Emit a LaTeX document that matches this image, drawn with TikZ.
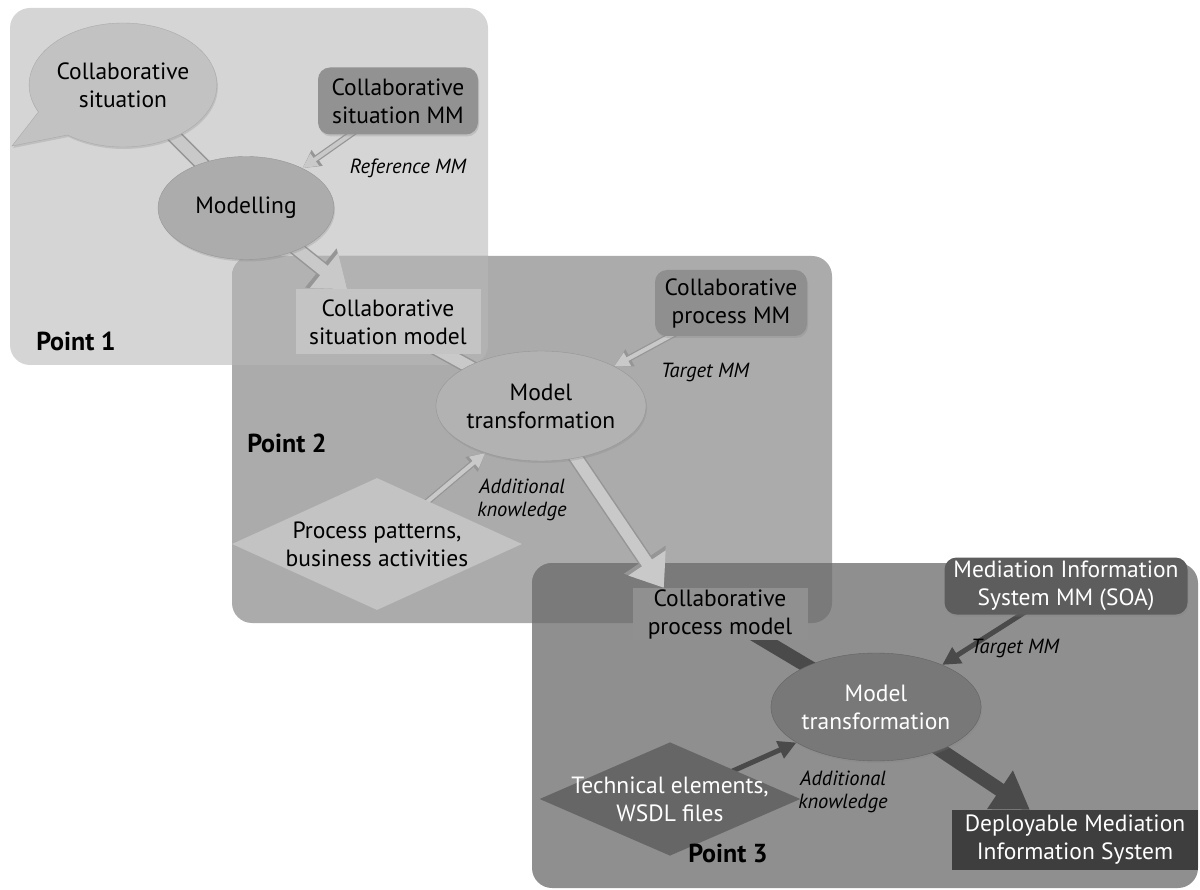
\documentclass[tikz,border=0pt]{standalone}
\usepackage{fontspec}
\setmainfont{PT Sans}
\usepackage{tikz}
\usetikzlibrary{shapes.geometric,shapes.callouts,shadows,arrows.meta}
\pgfdeclarelayer{panels}
\pgfdeclarelayer{links}
\pgfsetlayers{panels,links,main}

\begin{document}
\begin{tikzpicture}[x=1pt,y=-1pt,
  every node/.style={font=\fontsize{23.5}{28}\selectfont, align=center, inner sep=0pt},
  soft/.style={drop shadow={shadow xshift=1pt,shadow yshift=-2pt,opacity=0.25}},
  blob/.style={ellipse, soft},
  mbox/.style={rectangle, rounded corners=12pt, soft},
  flatbox/.style={rectangle},
  kite/.style={diamond},
  tag/.style={font=\fontsize{20.5}{23}\selectfont\itshape},
  pointlabel/.style={font=\fontsize{26}{30}\selectfont\bfseries},
  fatrim/.style={line width=15pt, draw=rimColor},
  fatcore/.style={line width=12pt, draw=paleColor},
  thinrim/.style={line width=6.5pt, draw=rimColor},
  thincore/.style={line width=4pt, draw=paleColor},
  darkfat/.style={line width=14pt, draw=darkColor},
  darkthin/.style={line width=5pt, draw=darkColor}]
\useasboundingbox (0,0) rectangle (1200,890);
\definecolor{panelOneColor}{RGB}{213,213,213}
\definecolor{panelTwoColor}{RGB}{171,171,171}
\definecolor{panelOneTwoColor}{RGB}{178,178,178}
\definecolor{panelThreeColor}{RGB}{143,143,143}
\definecolor{panelTwoThreeColor}{RGB}{122,122,122}
\definecolor{rimColor}{RGB}{150,150,150}
\definecolor{paleColor}{RGB}{201,201,201}
\definecolor{darkColor}{RGB}{74,74,74}

% panels
\begin{pgfonlayer}{panels}
  \fill[panelOneColor,rounded corners=20pt] (10,8) rectangle (488,365);
  \fill[panelTwoColor,rounded corners=20pt] (232,256) rectangle (832,623);
  \begin{scope}
    \clip[rounded corners=20pt] (10,8) rectangle (488,365);
    \fill[panelOneTwoColor,rounded corners=20pt] (232,256) rectangle (832,623);
  \end{scope}
  \fill[panelThreeColor,rounded corners=20pt] (532,563) rectangle (1198,888);
  \begin{scope}
    \clip[rounded corners=20pt] (232,256) rectangle (832,623);
    \fill[panelTwoThreeColor,rounded corners=20pt] (532,563) rectangle (1198,888);
  \end{scope}
\end{pgfonlayer}

% point 1
\node[ellipse callout, callout absolute pointer={(12,146)}, callout pointer arc=28,
  minimum width=180pt, minimum height=124pt, fill={rgb,255:red,194;green,194;blue,194},
  draw={rgb,255:red,170;green,170;blue,170}, soft] (cs) at (123,85) {Collaborative\\situation};
\node[mbox, minimum width=160pt, minimum height=67pt, fill={rgb,255:red,146;green,146;blue,146}] (csmm) at (398,101) {Collaborative\\situation MM};
\node[tag] (refmm) at (408,168) {Reference MM};
\node[blob, minimum width=176pt, minimum height=103pt, fill={rgb,255:red,172;green,172;blue,172}, draw={rgb,255:red,150;green,150;blue,150}] (mod) at (246,208) {Modelling};
\node[flatbox, minimum width=185pt, minimum height=65pt, fill={rgb,255:red,196;green,196;blue,196}] (csm) at (388,322) {Collaborative\\situation model};
\node[pointlabel] (pt1) at (76,341) {Point 1};

% point 2
\node[mbox, minimum width=152pt, minimum height=66pt, fill={rgb,255:red,143;green,143;blue,143}] (cpmm) at (731,303) {Collaborative\\process MM};
\node[tag] (tmm2) at (705,372) {Target MM};
\node[blob, minimum width=174pt, minimum height=110pt, fill={rgb,255:red,178;green,178;blue,178}, draw={rgb,255:red,150;green,150;blue,150}] (mt2) at (541,406) {Model\\transformation};
\node[pointlabel] (pt2) at (287,443) {Point 2};
\node[kite, aspect=2.2, inner xsep=-6pt, minimum width=290pt, minimum height=132pt, fill={rgb,255:red,195;green,195;blue,195}] (pp) at (377,544) {Process patterns,\\business activities};
\node[tag] (ak2) at (522,500) {Additional\\knowledge};
\node[flatbox, minimum width=175pt, minimum height=52pt, fill={rgb,255:red,144;green,144;blue,144}] (cpm) at (720,614) {Collaborative\\process model};

% point 3
\node[mbox, minimum width=243pt, minimum height=57pt, fill={rgb,255:red,93;green,93;blue,93}, text=white] (mismm) at (1066,586) {Mediation Information\\System MM (SOA)};
\node[tag] (tmm3) at (1015,648) {Target MM};
\node[blob, minimum width=174pt, minimum height=108pt, fill={rgb,255:red,120;green,120;blue,120}, draw={rgb,255:red,100;green,100;blue,100}, text=white] (mt3) at (876,707) {Model\\transformation};
\node[kite, aspect=2.3, inner xsep=-20pt, minimum width=260pt, minimum height=113pt, fill={rgb,255:red,102;green,102;blue,102}, text=white] (te) at (670,799) {Technical elements,\\WSDL files};
\node[tag] (ak3) at (843,792) {Additional\\knowledge};
\node[pointlabel] (pt3) at (728,853) {Point 3};
\node[flatbox, minimum width=246pt, minimum height=60pt, fill={rgb,255:red,62;green,62;blue,62}, text=white] (dmis) at (1075,840) {Deployable Mediation\\Information System};

% links
\begin{pgfonlayer}{links}
  \draw[fatrim] (cs.center) -- (mod.center);
  \draw[fatcore] (cs.center) -- (mod.center);
  \draw[fatrim,-{Triangle[length=34pt,width=48pt]}] (mod.center) -- (csm);
  \draw[fatcore,-{Triangle[length=30pt,width=43pt]}] (mod.center) -- (csm);
  \draw[thinrim,-{Triangle[length=18pt,width=18pt]}] (csmm.center) -- (mod);
  \draw[thincore,-{Triangle[length=15pt,width=14pt]}] (csmm.center) -- (mod);

  \draw[fatrim] (csm.center) -- (mt2.center);
  \draw[fatcore] (csm.center) -- (mt2.center);
  \draw[fatrim,-{Triangle[length=34pt,width=48pt]}] (mt2.center) -- (cpm.155);
  \draw[fatcore,-{Triangle[length=30pt,width=43pt]}] (mt2.center) -- (cpm.155);
  \draw[thinrim,-{Triangle[length=18pt,width=18pt]}] (cpmm.center) -- (mt2);
  \draw[thincore,-{Triangle[length=15pt,width=14pt]}] (cpmm.center) -- (mt2);
  \draw[thinrim,-{Triangle[length=18pt,width=18pt]}] (pp.center) -- (mt2);
  \draw[thincore,-{Triangle[length=15pt,width=14pt]}] (pp.center) -- (mt2);

  \draw[darkfat] (cpm.center) -- (mt3.center);
  \draw[darkfat,-{Triangle[length=36pt,width=44pt]}] (mt3.center) -- (dmis);
  \draw[darkthin,-{Triangle[length=18pt,width=18pt]}] (mismm.center) -- (mt3);
  \draw[darkthin,-{Triangle[length=18pt,width=18pt]}] (te.center) -- (mt3);
\end{pgfonlayer}
\end{tikzpicture}
\end{document}
